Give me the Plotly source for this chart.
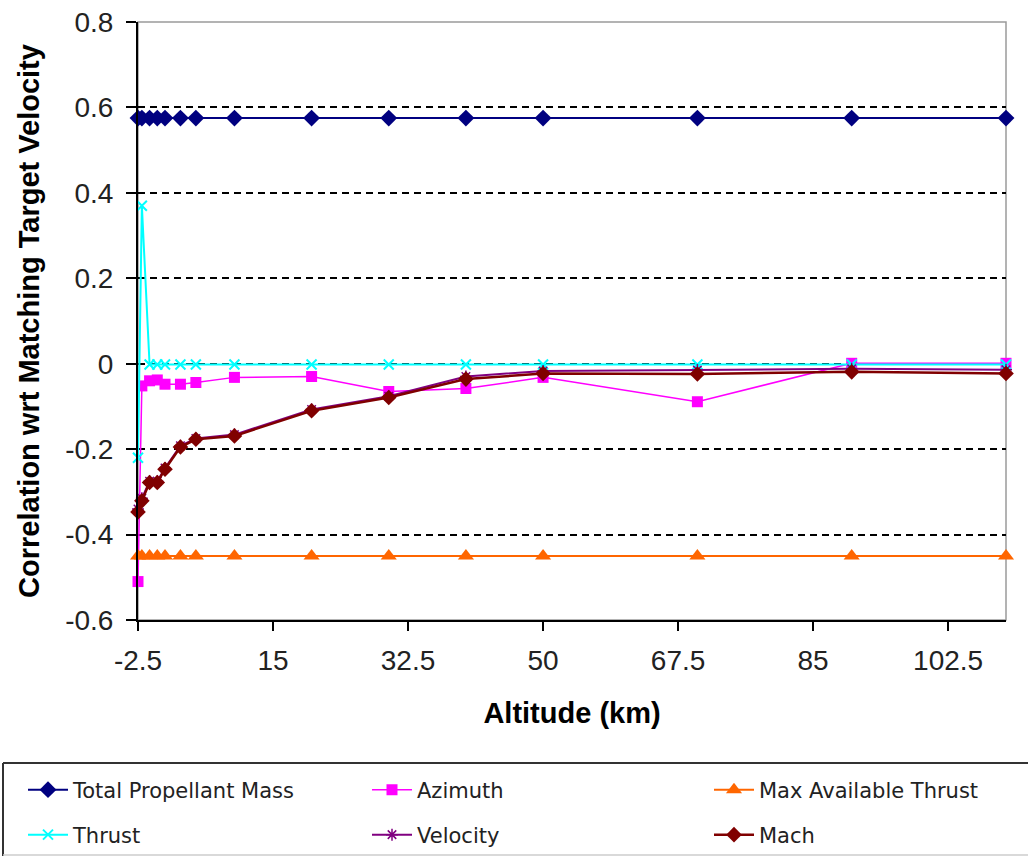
import plotly.graph_objects as go

# Altitude samples (km)
altitude = [-2.5, -2, -1, 0, 1, 3, 5, 10, 20, 30, 40, 50, 70, 90, 110]

# Correlation of each parameter with matching the target velocity
total_propellant_mass = [0.575] * 15
azimuth = [-0.51, -0.052, -0.040, -0.038, -0.048, -0.048, -0.044, -0.032,
           -0.030, -0.065, -0.058, -0.032, -0.089, 0.001, 0.001]
max_available_thrust = [-0.45] * 15
thrust = [-0.22, 0.37, -0.002, -0.002, -0.002, -0.002, -0.002, -0.002,
          -0.002, -0.002, -0.002, -0.002, -0.002, -0.002, -0.002]
velocity = [-0.340, -0.315, -0.275, -0.275, -0.244, -0.192, -0.175, -0.166,
            -0.107, -0.076, -0.030, -0.017, -0.015, -0.012, -0.014]
mach = [-0.347, -0.321, -0.278, -0.278, -0.247, -0.195, -0.177, -0.169,
        -0.110, -0.079, -0.036, -0.023, -0.024, -0.019, -0.023]

x_ticks = [-2.5, 15, 32.5, 50, 67.5, 85, 102.5]
x_tick_labels = ["-2.5", "15", "32.5", "50", "67.5", "85", "102.5"]
y_ticks = [0.8, 0.6, 0.4, 0.2, 0, -0.2, -0.4, -0.6]
y_tick_labels = ["0.8", "0.6", "0.4", "0.2", "0", "-0.2", "-0.4", "-0.6"]

W, H = 1028, 857
L, R, T, B = 138, 22, 22, 237
PW, PH = W - L - R, H - T - B


def px_x(p):
    return (p - L) / PW


def px_y(p):
    return (H - B - p) / PH


series = [
    ("Total Propellant Mass", total_propellant_mass, "#000080",
     dict(symbol="diamond", size=13, color="#000080"), 2, "legend", (23, 790)),
    ("Azimuth", azimuth, "#FF00FF",
     dict(symbol="square", size=11, color="#FF00FF"), 1.5, "legend2", (367, 790)),
    ("Max Available Thrust", max_available_thrust, "#FF6600",
     dict(symbol="triangle-up", size=14, color="#FF6600"), 2, "legend3", (709, 790)),
    ("Thrust", thrust, "#00FFFF",
     dict(symbol="x-thin-open", size=10, color="#00FFFF", line=dict(width=2, color="#00FFFF")),
     2, "legend4", (23, 835)),
    ("Velocity", velocity, "#800080",
     dict(symbol="asterisk-open", size=10, color="#800080", line=dict(width=1.5, color="#800080")),
     2, "legend5", (367, 835)),
    ("Mach", mach, "#800000",
     dict(symbol="diamond", size=12, color="#800000"), 2.5, "legend6", (709, 835)),
]

fig = go.Figure()
legend_layouts = {}
for name, values, color, marker, lw, leg, (lx, ly) in series:
    fig.add_trace(go.Scatter(
        x=altitude, y=values, name=name, mode="lines+markers",
        line=dict(color=color, width=lw), marker=marker,
        cliponaxis=False, legend=leg, showlegend=True,
    ))
    legend_layouts[leg] = dict(
        x=px_x(lx), y=px_y(ly), xanchor="left", yanchor="middle",
        bgcolor="rgba(0,0,0,0)", borderwidth=0, itemwidth=40,
        font=dict(family="DejaVu Sans", size=21, color="#222222"),
    )

shapes = [
    # plot area frame (top and right edges)
    dict(type="rect", xref="paper", yref="paper", x0=0, x1=1, y0=0, y1=1,
         line=dict(color="#9a9a9a", width=1.5), layer="below"),
    # legend frame
    dict(type="line", xref="paper", yref="paper",
         x0=px_x(3), x1=px_x(1030), y0=px_y(763), y1=px_y(763),
         line=dict(color="#333333", width=2)),
    dict(type="line", xref="paper", yref="paper",
         x0=px_x(3), x1=px_x(3), y0=px_y(763), y1=px_y(856),
         line=dict(color="#333333", width=2)),
    dict(type="line", xref="paper", yref="paper",
         x0=px_x(3), x1=px_x(1030), y0=px_y(855), y1=px_y(855),
         line=dict(color="#cccccc", width=1.5)),
]

fig.update_layout(
    width=W, height=H,
    margin=dict(l=L, r=R, t=T, b=B, autoexpand=False),
    paper_bgcolor="white", plot_bgcolor="white",
    showlegend=True,
    shapes=shapes,
    font=dict(family="Liberation Sans", color="#000000"),
    **legend_layouts,
)

fig.update_xaxes(
    range=[-2.5, 110], tickvals=x_ticks, ticktext=x_tick_labels,
    showgrid=False, zeroline=False,
    showline=True, linecolor="#000000", linewidth=2,
    ticks="outside", ticklen=9, tickwidth=2, tickcolor="#000000",
    ticklabelstandoff=5,
    tickfont=dict(family="Liberation Sans", size=28, color="#222222"),
    title=dict(text="<b>Altitude (km)</b>", standoff=28,
               font=dict(family="Liberation Sans", size=29, color="#000000")),
)
fig.update_yaxes(
    range=[-0.6, 0.8], tickvals=y_ticks, ticktext=y_tick_labels,
    showgrid=True, gridcolor="#000000", gridwidth=2, griddash="7px,5px",
    zeroline=False,
    showline=True, linecolor="#000000", linewidth=2,
    ticks="outside", ticklen=10, tickwidth=2, tickcolor="#000000",
    ticklabelstandoff=7,
    tickfont=dict(family="Liberation Sans", size=28, color="#222222"),
    title=dict(text="<b>Correlation wrt Matching Target Velocity</b>", standoff=17,
               font=dict(family="Liberation Sans", size=29, color="#000000")),
)

fig.write_html("out.html")
